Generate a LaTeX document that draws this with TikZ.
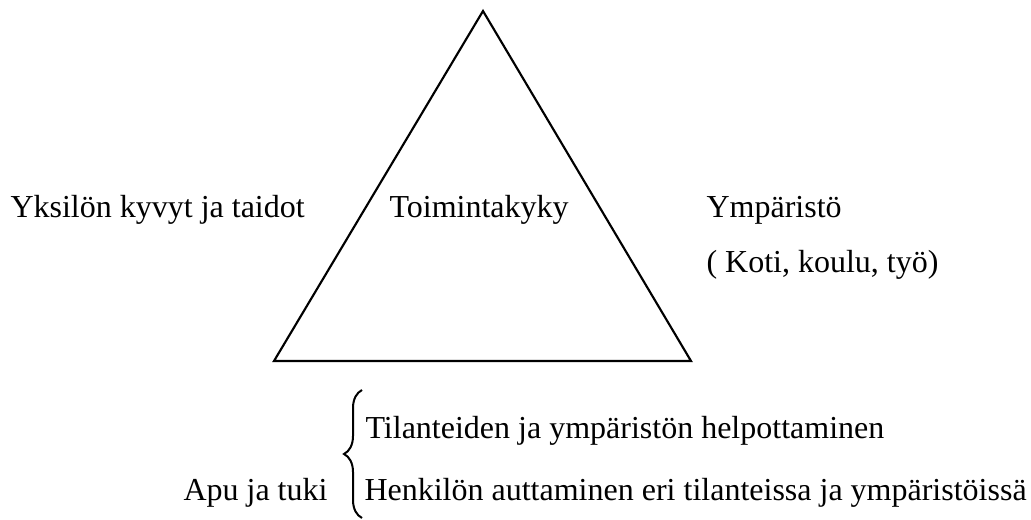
\documentclass[tikz,border=0pt]{standalone}
\usepackage{fontspec}
\setmainfont{Liberation Serif}
\usepackage{tikz}
\usetikzlibrary{decorations.pathreplacing}

\begin{document}
\begin{tikzpicture}[x=0.375pt, y=-0.375pt]
      \tikzset{every node/.style={inner sep=0pt, anchor=base west, font=\fontsize{12}{14}\selectfont}, side/.style={line width=0.8pt, line join=miter}, curly/.style={decorate, decoration={brace, amplitude=6.75pt}, line width=0.75pt}}
      \useasboundingbox (0,0) rectangle (1031,520);
      \coordinate (top) at (483,11);
      \coordinate (bl) at (274,361);
      \coordinate (br) at (691,361);
      \draw[side] (top) -- (br) -- (bl) -- cycle;
      \node (yksilo) at (10,217) {Yksilön kyvyt ja taidot};
      \node (toim) at (389,217) {Toimintakyky};
      \node (ymp) at (706,217) {Ympäristö};
      \node (koti) at (706,272) {( Koti, koulu, työ)};
      \node (tilanne) at (365,438) {Tilanteiden ja ympäristön helpottaminen};
      \node (henkilo) at (364,500) {Henkilön auttaminen eri tilanteissa ja ympäristöissä};
      \node (apu) at (183,500) {Apu ja tuki};
      \coordinate (b1) at (362,518);
      \coordinate (b2) at (362,390);
      \draw[curly] (b1) -- (b2);
\end{tikzpicture}
\end{document}
